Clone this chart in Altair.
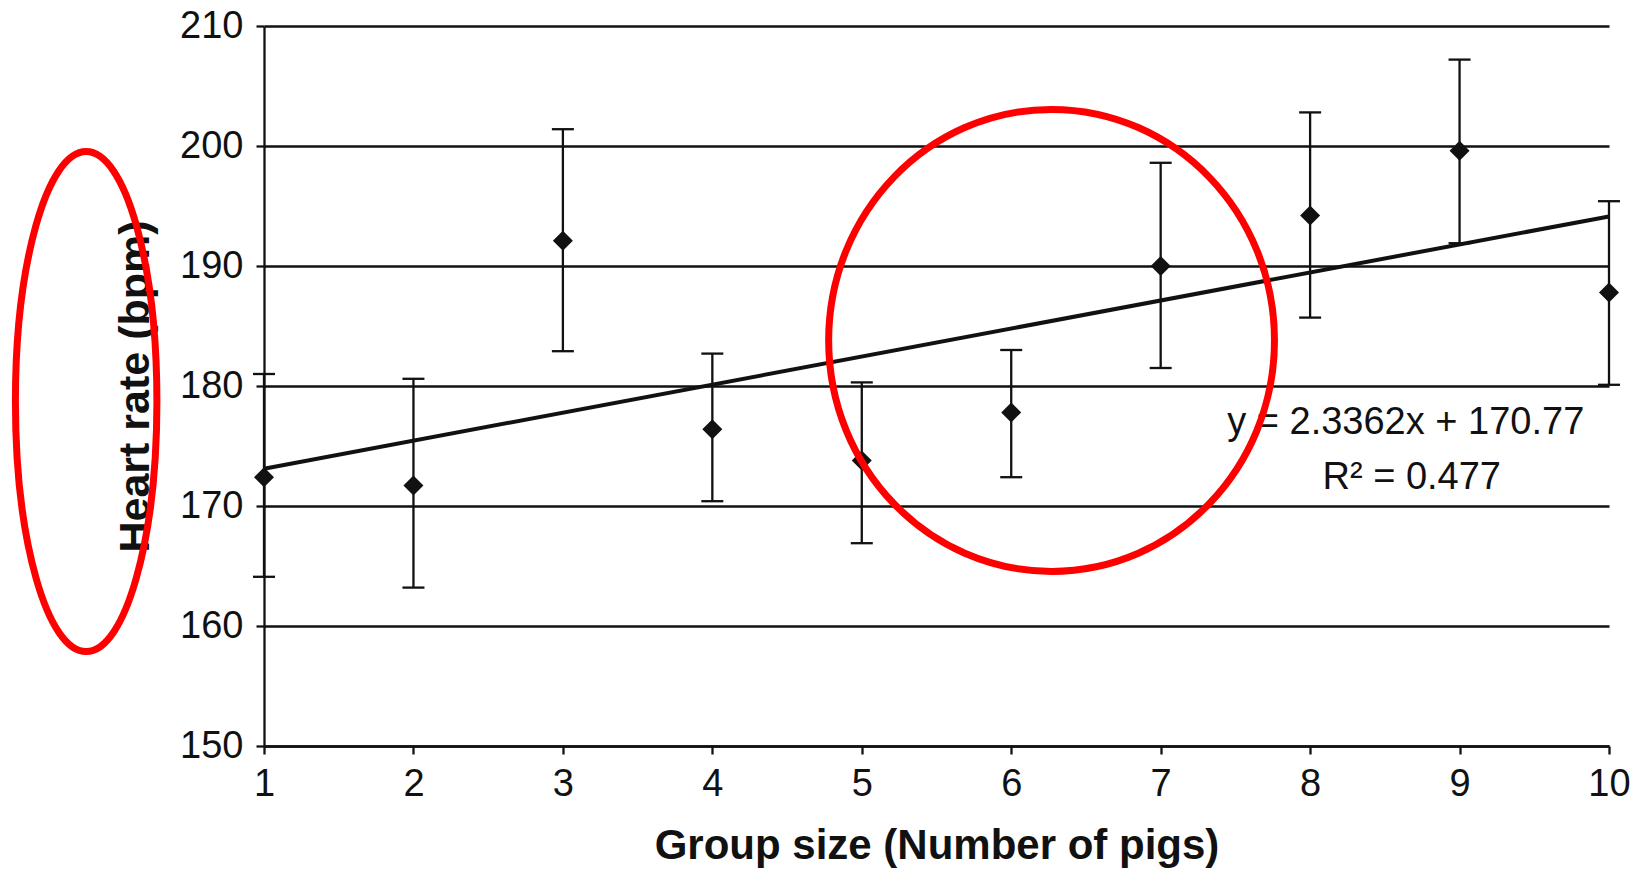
import altair as alt
import pandas as pd

# ---- data ----
group_size = [1, 2, 3, 4, 5, 6, 7, 8, 9, 10]
heart_rate = [172.4, 171.7, 192.1, 176.4, 173.8, 177.8, 190.0, 194.2, 199.6, 187.8]
err_upper = [181.0, 180.6, 201.4, 182.7, 180.3, 183.0, 198.6, 202.8, 207.2, 195.4]
err_lower = [164.1, 163.2, 182.9, 170.4, 166.9, 172.4, 181.5, 185.7, 191.9, 180.1]

# trend line printed on the chart
slope = 2.3362
intercept = 170.77
fit_x = [1, 10]

eq_lines = ["y = 2.3362x + 170.77", "R\u00b2 = 0.477"]
eq_x = [8.64, 8.68]
eq_y = [176.0, 171.4]

# red hand-drawn marks (centres in data units)
circle_x = [6.27]
circle_y = [183.8]
oval_x = [-0.19]
oval_y = [178.7]

x_ticks = list(range(1, 11))
y_ticks = [150, 160, 170, 180, 190, 200, 210]

FONT = "Liberation Sans"
INK = "#111111"

df = pd.DataFrame({"x": group_size, "y": heart_rate, "hi": err_upper, "lo": err_lower})
fit_df = pd.DataFrame({"x": fit_x, "y": [slope * v + intercept for v in fit_x]})
eq_df = pd.DataFrame({"x": eq_x, "y": eq_y, "t": eq_lines})
circle_df = pd.DataFrame({"x": circle_x, "y": circle_y})
oval_df = pd.DataFrame({"x": oval_x, "y": oval_y})

xscale = alt.Scale(domain=[1, 10], nice=False, zero=False)
yscale = alt.Scale(domain=[150, 210], nice=False, zero=False)

xaxis = alt.Axis(
    values=x_ticks, format="d", title="Group size (Number of pigs)", grid=False,
    labelFontSize=38, labelFont=FONT, labelColor=INK, labelPadding=11,
    tickSize=8, tickWidth=2.3, tickColor=INK, domainColor=INK, domainWidth=2.3,
    titleFontSize=42, titleFont=FONT, titleFontWeight="bold", titleColor=INK,
    titlePadding=22, labelFlush=False,
)
yaxis = alt.Axis(
    values=y_ticks, title="Heart rate (bpm)", grid=True, gridColor=INK, gridWidth=2.3,
    labelFontSize=38, labelFont=FONT, labelColor=INK, labelPadding=13,
    tickSize=8, tickWidth=2.3, tickColor=INK, domainColor=INK, domainWidth=2.3,
    titleFontSize=43, titleFont=FONT, titleFontWeight="bold", titleColor=INK,
    titlePadding=22,
)

base = alt.Chart(df)

bars = base.mark_rule(color=INK, strokeWidth=2.3).encode(
    x=alt.X("x:Q", scale=xscale, axis=xaxis),
    y=alt.Y("lo:Q", scale=yscale, axis=yaxis),
    y2="hi:Q",
)
cap_hi = base.mark_tick(orient="horizontal", size=22, thickness=2.3, color=INK, opacity=1).encode(
    x=alt.X("x:Q", scale=xscale), y=alt.Y("hi:Q", scale=yscale)
)
cap_lo = base.mark_tick(orient="horizontal", size=22, thickness=2.3, color=INK, opacity=1).encode(
    x=alt.X("x:Q", scale=xscale), y=alt.Y("lo:Q", scale=yscale)
)
fit = alt.Chart(fit_df).mark_line(color=INK, strokeWidth=4).encode(
    x=alt.X("x:Q", scale=xscale), y=alt.Y("y:Q", scale=yscale)
)
pts = base.mark_point(shape="diamond", filled=True, size=400, color=INK, opacity=1).encode(
    x=alt.X("x:Q", scale=xscale), y=alt.Y("y:Q", scale=yscale)
)
eq = alt.Chart(eq_df).mark_text(
    align="center", baseline="alphabetic", fontSize=38, font=FONT, color=INK
).encode(
    x=alt.X("x:Q", scale=xscale), y=alt.Y("y:Q", scale=yscale), text="t:N"
)

circle_path = "M -0.965,0 A 0.965,1 0 1,1 0.965,0 A 0.965,1 0 1,1 -0.965,0 Z"
oval_path = "M -0.283,0 A 0.283,1 0 1,1 0.283,0 A 0.283,1 0 1,1 -0.283,0 Z"

circle = alt.Chart(circle_df).mark_point(
    shape=circle_path, filled=False, stroke="#ff0000", strokeWidth=7,
    size=462 * 462, opacity=1,
).encode(x=alt.X("x:Q", scale=xscale), y=alt.Y("y:Q", scale=yscale))
oval = alt.Chart(oval_df).mark_point(
    shape=oval_path, filled=False, stroke="#ff0000", strokeWidth=7,
    size=500 * 500, opacity=1,
).encode(x=alt.X("x:Q", scale=xscale), y=alt.Y("y:Q", scale=yscale))

chart = alt.layer(bars, cap_hi, cap_lo, fit, pts, eq, circle, oval).properties(
    width=1345, height=720,
    autosize=alt.AutoSizeParams(type="none"),
    padding={"left": 264, "top": 26, "right": 29, "bottom": 126},
    background="white",
).configure_view(stroke=None)

chart.save("out.html", embed_options={"renderer": "svg", "actions": False})
